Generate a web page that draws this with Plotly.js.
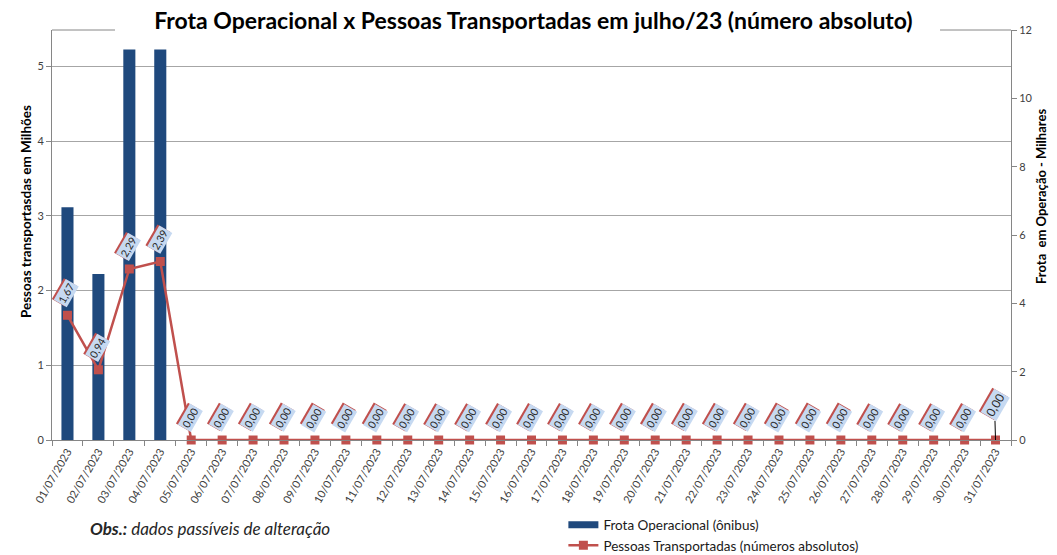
<!DOCTYPE html>
<html><head><meta charset="utf-8">
<script src="https://cdn.plot.ly/plotly-3.0.1.min.js"></script>
<style>html,body{margin:0;padding:0;background:#fff}#chart{width:1057px;height:555px}</style>
</head><body><div id="chart"></div>
<script>
const dates = ['01/07/2023','02/07/2023','03/07/2023','04/07/2023','05/07/2023','06/07/2023','07/07/2023','08/07/2023','09/07/2023','10/07/2023','11/07/2023','12/07/2023','13/07/2023','14/07/2023','15/07/2023','16/07/2023','17/07/2023','18/07/2023','19/07/2023','20/07/2023','21/07/2023','22/07/2023','23/07/2023','24/07/2023','25/07/2023','26/07/2023','27/07/2023','28/07/2023','29/07/2023','30/07/2023','31/07/2023'];
// Frota Operacional (milhares de ônibus) - eixo direito
const frotaOperacional = [6.81,4.86,11.43,11.43,0,0,0,0,0,0,0,0,0,0,0,0,0,0,0,0,0,0,0,0,0,0,0,0,0,0,0];
// Pessoas Transportadas (milhões) - eixo esquerdo
const pessoasTransportadas = [1.67,0.94,2.29,2.39,0,0,0,0,0,0,0,0,0,0,0,0,0,0,0,0,0,0,0,0,0,0,0,0,0,0,0];
const nomeFrota = 'Frota Operacional (ônibus)';
const nomePessoas = 'Pessoas Transportadas (números absolutos)';
const tituloGrafico = 'Frota Operacional x Pessoas Transportadas em julho/23 (número absoluto)';
const tituloEsq = 'Pessoas transportasdas em Milhões';
const tituloDir = 'Frota  em Operação - Milhares';
const obsTexto = '<i><b>Obs.:</b> dados passíveis de alteração</i>';

const FONT = 'Lato, "Open Sans", sans-serif';
const barColor = '#1f497d';
const lineColor = '#c0504d';
const axisColor = '#868686';
const labelBlue = '#c6d9f1';

const traces = [
  {type:'bar', x:dates, y:frotaOperacional, yaxis:'y', name:nomeFrota, showlegend:false,
   marker:{color:barColor}, hoverinfo:'skip'},
  {type:'scatter', x:[null], y:[null], yaxis:'y', mode:'lines', name:nomeFrota,
   line:{color:barColor, width:7}, hoverinfo:'skip'},
  {type:'scatter', x:dates, y:pessoasTransportadas, yaxis:'y2', mode:'lines+markers', name:nomePessoas,
   line:{color:lineColor, width:2.5}, marker:{symbol:'square', size:9, color:lineColor}, cliponaxis:false}
];

const annotations = [];
pessoasTransportadas.forEach((v, i) => {
  const last = i === dates.length - 1;
  const txt = v.toFixed(2).replace('.', ',');
  const fs = last ? 12 : 10.5;
  const ax = last ? -1 : -1;
  const ay = last ? -35 : -22;
  annotations.push({xref:'x', yref:'y2', x:dates[i], y:v, text:txt, textangle:-60,
    showarrow:true, arrowcolor:'rgba(0,0,0,0)', arrowwidth:1, arrowhead:0,
    ax:ax-1.8, ay:ay-1.0, axref:'pixel', ayref:'pixel',
    font:{family:FONT, size:fs, color:'rgba(0,0,0,0)'}, bgcolor:lineColor, borderpad:1});
  annotations.push({xref:'x', yref:'y2', x:dates[i], y:v, text:txt, textangle:-60,
    showarrow:true, arrowcolor: last ? '#000' : 'rgba(0,0,0,0)', arrowwidth:1, arrowhead:0,
    ax:ax, ay:ay, axref:'pixel', ayref:'pixel',
    font:{family:FONT, size:fs, color:'#262626'}, bgcolor:labelBlue, borderpad:1});
});
annotations.push({xref:'paper', yref:'paper', x:-0.0375, y:0.556, text:'<b>'+tituloEsq+'</b>', textangle:-90,
  showarrow:false, font:{family:FONT, size:13.5, color:'#000'}});
annotations.push({xref:'paper', yref:'paper', x:1.0417, y:0.595, text:'<b>'+tituloDir+'</b>', textangle:-90,
  showarrow:false, font:{family:FONT, size:13, color:'#000'}});
annotations.push({xref:'paper', yref:'paper', x:0.0375, y:-0.217, xanchor:'left', yanchor:'middle', text:obsTexto,
  showarrow:false, font:{family:FONT, size:17, color:'#262626'}});

const layout = {
  width:1057, height:555,
  margin:{l:52, r:46, t:30, b:115, autoexpand:false},
  paper_bgcolor:'#ffffff', plot_bgcolor:'rgba(0,0,0,0)',
  font:{family:FONT, color:'#404040'},
  title:{text:'<b>'+tituloGrafico+'</b>', font:{family:FONT, size:23, color:'#000'},
    x:0.502, xref:'paper', xanchor:'center', y:0.962, yref:'container', yanchor:'middle'},
  bargap:0.61,
  showlegend:true,
  legend:{xref:'container', yref:'container', x:0.533, y:0.082, xanchor:'left', yanchor:'top', orientation:'v',
    font:{family:FONT, size:13.5, color:'#1a1a1a'}, bgcolor:'rgba(0,0,0,0)', itemwidth:30, tracegroupgap:0},
  xaxis:{type:'category', range:[-0.5,30.5], tickangle:-60, tickson:'boundaries', ticks:'outside', ticklen:5,
    tickcolor:axisColor, showline:true, linecolor:axisColor, showgrid:false, zeroline:false, automargin:false,
    tickfont:{family:FONT, size:11, color:'#404040'}, fixedrange:true},
  yaxis:{side:'right', range:[0,12], dtick:2, ticks:'outside', ticklen:5, tickcolor:axisColor,
    showline:true, linecolor:axisColor, showgrid:false, zeroline:false, automargin:false,
    tickfont:{family:FONT, size:11, color:'#404040'}},
  yaxis2:{side:'left', overlaying:'y', range:[0,5.49], dtick:1, ticks:'outside', ticklen:5, tickcolor:axisColor,
    showline:true, linecolor:axisColor, showgrid:true, gridcolor:'#a6a6a6', gridwidth:1, zeroline:false, automargin:false,
    tickfont:{family:FONT, size:11, color:'#404040'}},
  shapes:[
    {type:'line', xref:'paper', yref:'paper', x0:0, x1:0.0657, y0:1, y1:1, line:{color:axisColor, width:1}},
    {type:'line', xref:'paper', yref:'paper', x0:0.926, x1:1, y0:1, y1:1, line:{color:axisColor, width:1}}
  ],
  annotations:annotations
};

Plotly.newPlot('chart', traces, layout, {staticPlot:true, displayModeBar:false});
</script>
</body></html>
